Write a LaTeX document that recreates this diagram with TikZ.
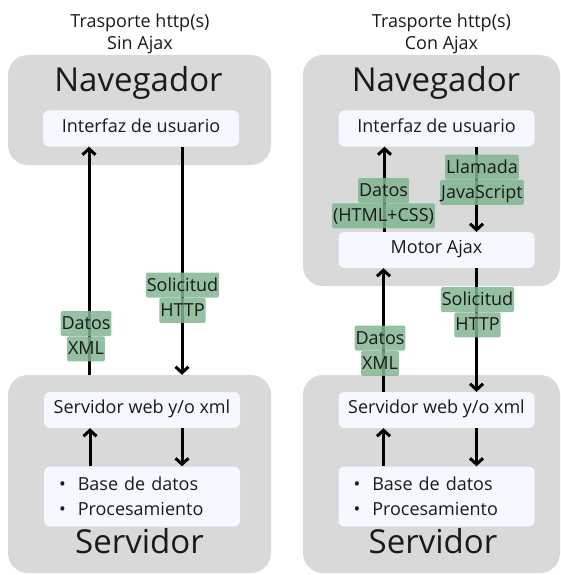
\documentclass[tikz,border=0pt]{standalone}
\usepackage{fontspec}
\setmainfont{Open Sans}
\usepackage{tikz}
\usetikzlibrary{arrows.meta}
\usetikzlibrary{positioning}

\definecolor{gris}{HTML}{D9D9D9}
\definecolor{celeste}{HTML}{F5F8FE}
\definecolor{verde}{HTML}{82B592}
\definecolor{tinta}{HTML}{1A1A1A}

\tikzset{
	bloque/.style={fill=gris, rounded corners=20pt, inner sep=0pt, minimum width=#1},
	bloque/.default=263pt,
	caja/.style={fill=celeste, rounded corners=6pt, minimum width=196pt, minimum height=36pt, inner sep=0pt, text height=13pt, text depth=6pt, font=\fontsize{18}{25}\selectfont, text=tinta},
	lista/.style={caja, minimum height=60pt, text width=166pt, align=left, text height=, text depth=},
	grande/.style={anchor=base, font=\fontsize{33}{40}\selectfont, text=tinta, inner sep=0pt},
	titulo/.style={anchor=base, align=center, font=\fontsize{18}{22}\selectfont, text=tinta, inner sep=0pt},
	etiq/.style={fill=verde, fill opacity=0.85, text opacity=1, text=tinta, rounded corners=1.5pt, inner xsep=1pt, inner ysep=0.5pt, text height=18pt, text depth=6pt, font=\fontsize{18}{22}\selectfont},
	flecha/.style={line width=3pt, draw=black, -{Straight Barb[length=6pt, width=13pt]}}
}

\begin{document}
\begin{tikzpicture}[x=1pt, y=-1pt]
		\clip (0,0) rectangle (561,575);
		\node[titulo] (titA) at (140,50) {Trasporte http(s)\\Sin Ajax};
		\node[titulo] (titB) at (441.5,50) {Trasporte http(s)\\Con Ajax};

		\node[bloque, minimum height=110pt] (navA) at (139.5,110) {};
		\node[bloque, minimum height=198pt] (srvA) at (139.5,474) {};
		\node[bloque=257pt, minimum height=231pt] (navB) at (431.5,170.5) {};
		\node[bloque=257pt, minimum height=198pt] (srvB) at (431.5,474) {};

		\node[grande] (navAt) at (138.5,92) {Navegador};
		\node[grande] (srvAt) at (139.5,553) {Servidor};
		\node[grande] (navBt) at (436,92) {Navegador};
		\node[grande] (srvBt) at (433,553) {Servidor};

		\node[caja] (interfazA) at (141,128.5) {Interfaz de usuario};
		\node[caja] (webA) at (142,410) {Servidor web y/o xml};
		\node[lista] (baseA) at (142,496.5) {\textbullet\ \ Base de datos\\\textbullet\ \ Procesamiento};

		\node[caja] (interfazB) at (436.5,128.5) {Interfaz de usuario};
		\node[caja] (motorB) at (436.5,250) {Motor Ajax};
		\node[caja] (webB) at (436.5,410) {Servidor web y/o xml};
		\node[lista] (baseB) at (436.5,496.5) {\textbullet\ \ Base de datos\\\textbullet\ \ Procesamiento};

		\draw[flecha] ([xshift=-52pt]interfazA.south |- srvA.north) -- ([xshift=-52pt]interfazA.south);
		\draw[flecha] ([xshift=41pt]interfazA.south) -- ([xshift=41pt]interfazA.south |- srvA.north);
		\draw[flecha] ([xshift=-52pt]baseA.north) -- ([xshift=-52pt]webA.south);
		\draw[flecha] ([xshift=40pt]webA.south) -- ([xshift=40pt]baseA.north);

		\draw[flecha] ([xshift=-52pt]motorB.north) -- ([xshift=-52pt]interfazB.south);
		\draw[flecha] ([xshift=40pt]interfazB.south) -- ([xshift=40pt]motorB.north);
		\draw[flecha] ([xshift=-53pt]webB.north) -- ([xshift=-53pt]motorB.south);
		\draw[flecha] ([xshift=40pt]motorB.south) -- ([xshift=40pt]webB.north);
		\draw[flecha] ([xshift=-53pt]baseB.north) -- ([xshift=-53pt]webB.south);
		\draw[flecha] ([xshift=40pt]webB.south) -- ([xshift=40pt]baseB.north);

		\node[etiq] (datosA) at (86,323.5) {Datos};
		\node[etiq, below=0pt of datosA] (xmlA) {XML};
		\node[etiq] (soliA) at (182.5,285) {Solicitud};
		\node[etiq, below=0pt of soliA] (httpA) {HTTP};

		\node[etiq] (llamB) at (482,167) {Llamada};
		\node[etiq, below=0pt of llamB] (jsB) {JavaScript};
		\node[etiq] (datosB) at (383.5,190.5) {Datos};
		\node[etiq, below=0pt of datosB] (htmlB) {(HTML+CSS)};
		\node[etiq] (soliB) at (477.5,299.5) {Solicitud};
		\node[etiq, below=0pt of soliB] (httpB) {HTTP};
		\node[etiq] (datosC) at (380,338) {Datos};
		\node[etiq, below=0pt of datosC] (xmlC) {XML};
\end{tikzpicture}
\end{document}
